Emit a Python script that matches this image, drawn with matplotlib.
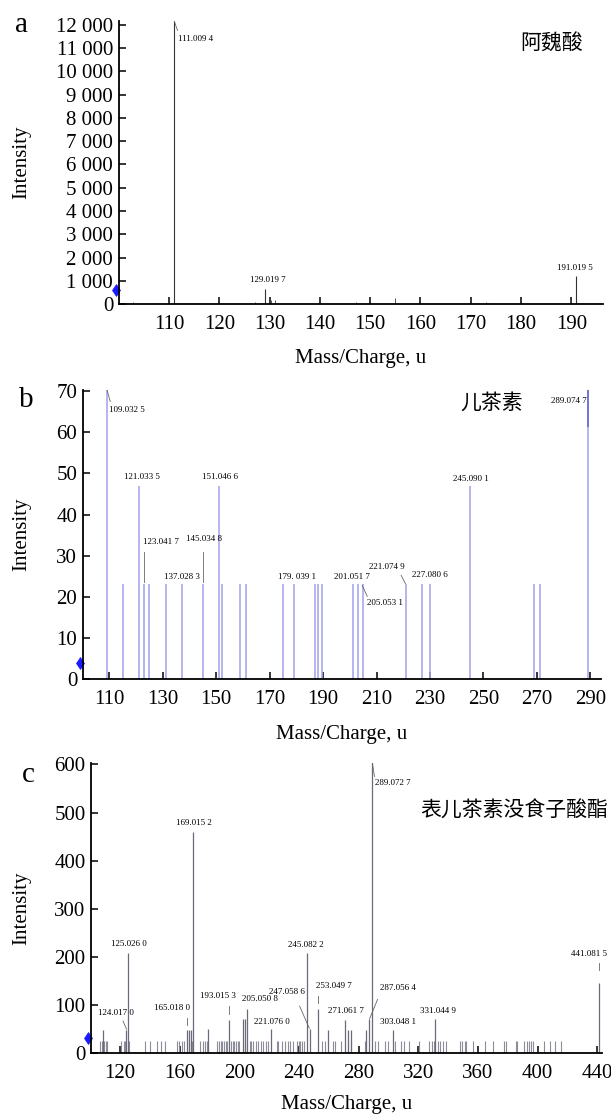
import matplotlib
matplotlib.use("Agg")
import matplotlib.pyplot as plt
from matplotlib.ticker import FuncFormatter

plt.rcParams['font.family'] = ['Liberation Serif', 'Noto Sans CJK SC']

# ---- panel a : 阿魏酸 ----
mz_a = [111.0094, 129.0197, 191.0195]
int_a = [12150, 660, 1220]
small_mz_a = [102.9, 107.6, 109.8, 111.5, 112.0, 112.5, 113.0, 113.5, 114.0, 114.5,
              115.0, 115.5, 116.0, 117.3, 127.1, 130.2, 131.1, 147.1, 155.0, 171.0,
              173.0, 174.8, 189.8, 193.7, 194.3, 194.9]
small_int_a = [90, 40, 120, 60, 50, 40, 40, 50, 40, 40,
               40, 30, 40, 50, 80, 180, 200, 80, 280, 60,
               120, 50, 200, 40, 40, 40]
lab_a = ["111.009 4", "129.019 7", "191.019 5"]
lab_x_a = [111.8, 129.7, 190.7]
lab_y_a = [11370, 1040, 1540]
lab_ha_a = ['left', 'center', 'center']

# ---- panel b : 儿茶素 ----
mz_b = [109.0325, 115.0, 121.0335, 123.0417, 125.0, 131.0, 137.0283, 145.0348, 151.0466,
        152.0, 159.0, 161.0, 175.0, 179.0391, 187.0, 188.0, 189.5, 201.0517, 203.0,
        205.0531, 221.0749, 227.0806, 230.0, 245.0901, 269.0, 271.0, 289.0747]
int_b = [70.3, 23, 47, 23, 23, 23, 23, 23, 47,
         23, 23, 23, 23, 23, 23, 23, 23, 23, 23,
         23, 23, 23, 23, 47, 23, 23, 70.3]
lab_b = ["109.032 5", "121.033 5", "151.046 6", "245.090 1", "289.074 7", "123.041 7",
         "145.034 8", "137.028 3", "179. 039 1", "201.051 7", "205.053 1", "221.074 9",
         "227.080 6"]
lab_x_b = [110.0, 122.1, 151.3, 245.3, 288.6, 129.4, 145.4, 137.0, 180.3, 200.7, 213.2, 213.8, 229.8]
lab_y_b = [65.5, 49.1, 49.1, 48.7, 67.7, 33.3, 34.1, 24.8, 24.8, 24.8, 18.5, 27.3, 25.4]
lab_ha_b = ['left', 'center', 'center', 'center', 'right', 'center', 'center',
            'center', 'center', 'center', 'center', 'center', 'center']

# ---- panel c : 表儿茶素没食子酸酯 ----
mz_c = [108.8, 124.017, 125.026, 165.018, 166.5, 167.8, 169.0152, 178.9, 193.0153, 202.2,
        203.7, 205.0508, 221.076, 245.0822, 247.0586, 253.0497, 259.2, 271.0617, 273.0,
        274.9, 284.6, 287.0564, 289.0727, 303.0481, 331.0449, 441.0815]
int_c = [48, 48, 209, 48, 48, 48, 460, 50, 70, 72,
         72, 93, 50, 208, 50, 93, 48, 70, 48,
         48, 48, 72, 605, 48, 72, 145]
small_mz_c = [106.4, 107.7, 109.1, 110.5, 111.4, 120.9, 122.3, 123.6, 126.1, 137.0,
              139.8, 145.0, 147.7, 150.0, 158.2, 159.5, 161.4, 162.7, 166.4, 168.2,
              173.9, 175.5, 176.8, 178.4, 185.2, 186.4, 187.5, 188.6, 189.8, 190.9,
              192.0, 194.3, 195.5, 196.6, 197.7, 198.9, 200.0, 203.6, 206.8, 208.0,
              209.1, 210.9, 212.5, 214.3, 215.9, 217.7, 219.3, 225.0, 226.1, 228.4,
              230.7, 232.3, 234.1, 235.9, 238.6, 239.8, 240.9, 242.0, 243.2, 255.7,
              257.3, 262.5, 264.1, 268.2, 272.7, 275.0, 284.1, 290.9, 293.2, 297.7,
              300.0, 304.5, 308.6, 310.2, 313.6, 320.5, 327.3, 328.9, 330.7, 332.9,
              334.5, 336.4, 338.6, 348.2, 349.5, 351.1, 352.3, 356.8, 364.8, 370.0,
              377.3, 379.1, 385.2, 386.4, 390.9, 392.7, 394.3, 395.5, 396.6, 404.5,
              408.0, 411.4, 415.9]
small_int_c = [25, 25, 25, 25, 25, 25, 25, 25, 25, 25,
               25, 25, 25, 25, 25, 25, 25, 25, 25, 25,
               25, 25, 25, 25, 25, 25, 25, 25, 25, 25,
               25, 25, 25, 25, 25, 25, 25, 25, 25, 25,
               25, 25, 25, 25, 25, 25, 25, 25, 25, 25,
               25, 25, 25, 25, 25, 25, 25, 25, 25, 25,
               25, 25, 25, 25, 25, 25, 25, 25, 25, 25,
               25, 25, 25, 25, 25, 25, 25, 25, 25, 25,
               25, 25, 25, 25, 25, 25, 25, 25, 25, 25,
               25, 25, 25, 25, 25, 25, 25, 25, 25, 25,
               25, 25, 25]
lab_c = ["124.017 0", "125.026 0", "165.018 0", "169.015 2", "193.015 3", "205.050 8",
         "221.076 0", "245.082 2", "247.058 6", "253.049 7", "271.061 7", "287.056 4",
         "289.072 7", "303.048 1", "331.044 9", "441.081 5"]
lab_x_c = [116.9, 125.8, 155.1, 169.5, 185.4, 213.7, 221.8, 244.3, 231.7, 263.6,
           271.7, 306.5, 291.1, 306.5, 333.0, 446.8]
lab_y_c = [84, 226, 95, 479, 119, 112, 64, 224, 128, 140, 88, 136, 562, 65, 88, 206]
lab_ha_c = ['center', 'center', 'center', 'center', 'center', 'center', 'center', 'center',
            'center', 'center', 'center', 'center', 'left', 'center', 'center', 'right']

# leader lines (x0, y0, x1, y1)
lead_a = [(111.05, 12150, 111.7, 11750)]
lead_b = [(109.1, 70.3, 110.3, 67.5), (123.04, 23.5, 123.04, 31), (145.03, 23.5, 145.03, 31),
          (204.6, 22.8, 206.5, 20.1), (219.2, 25.2, 220.8, 23.2)]
lead_c = [(289.1, 605, 290.6, 575), (122.0, 67, 124.3, 50), (165.0, 58, 165.0, 74),
          (193.0, 81, 193.0, 98), (240.4, 98, 246.9, 52), (253.0, 105, 253.0, 120),
          (292.7, 112, 287.4, 72), (441.0, 173, 441.0, 188)]

fig = plt.figure(figsize=(6.11, 11.18), dpi=100)
W, H = 611, 1118


def make_ax(left, top, right, bottom):
    return fig.add_axes([left / W, 1 - bottom / H, (right - left) / W, (bottom - top) / H])


def style(ax, xlim, ylim, xticks, yticks, left_px, width_px, marker_y):
    ax.set_xlim(*xlim)
    ax.set_ylim(*ylim)
    ax.set_xticks(xticks)
    ax.set_yticks(yticks)
    for s in ['top', 'right']:
        ax.spines[s].set_visible(False)
    for s in ['left', 'bottom']:
        ax.spines[s].set_linewidth(1.3)
    ax.tick_params(direction='in', length=5, width=1.1, labelsize=15)
    ax.tick_params(axis='x', pad=8)
    ax.tick_params(axis='y', pad=4)
    ax.set_xlabel("Mass/Charge, u", fontsize=15)
    ax.set_ylabel("Intensity", fontsize=15)
    ax.yaxis.set_label_coords((21.5 - left_px) / width_px, 0.5)
    ax.yaxis.label.set_va('center')
    ax.plot([-0.005], [marker_y], marker='d', color='#1a1aff', markersize=6,
            markeredgewidth=0.5, transform=ax.get_yaxis_transform(), clip_on=False)


def leaders(ax, segs):
    for x0, y0, x1, y1 in segs:
        ax.plot([x0, x1], [y0, y1], color='#666666', lw=0.6)


# panel a
ax = make_ax(118.7, 20.7, 603, 304.3)
ax.vlines(small_mz_a, 0, small_int_a, colors='#555555', lw=0.7)
ax.vlines(mz_a, 0, int_a, colors='#333333', lw=0.8)
leaders(ax, lead_a)
for t, x, y, ha in zip(lab_a, lab_x_a, lab_y_a, lab_ha_a):
    ax.text(x, y, t, fontsize=6.5, ha=ha, va='center')
style(ax, (100, 196.3), (0, 12170), range(110, 191, 10), range(0, 12001, 1000), 118.7, 484.3, 600)
ax.yaxis.set_major_formatter(FuncFormatter(lambda v, p: f"{int(v):,}".replace(",", " ")))
ax.text(186.1, 11230, "阿魏酸", fontsize=15, ha='center', va='center', family='Noto Sans CJK SC')
ax.xaxis.set_label_coords(0.5, (304.3 - 358) / 283.6)
ax.xaxis.label.set_va('center')
fig.text(21.6 / W, 1 - 32 / H, "a", fontsize=21, ha='center', va='baseline')

# panel b
ax = make_ax(82.7, 389.5, 601, 679)
ax.vlines(mz_b, 0, int_b, colors='#a9a9ec', lw=1.2)
ax.vlines([289.0747], 61.2, 70.3, colors='#6a6ac8', lw=1.2)
leaders(ax, lead_b)
for t, x, y, ha in zip(lab_b, lab_x_b, lab_y_b, lab_ha_b):
    ax.text(x, y, t, fontsize=6.5, ha=ha, va='center')
style(ax, (100, 294), (0, 70.4), range(110, 291, 20), range(0, 71, 10), 82.7, 518.3, 3.9)
ax.text(253.1, 67.1, "儿茶素", fontsize=15, ha='center', va='center', family='Noto Sans CJK SC')
ax.xaxis.set_label_coords(0.5, (679 - 735) / 289.5)
ax.xaxis.label.set_va('center')
fig.text(26 / W, 1 - 407 / H, "b", fontsize=21, ha='center', va='baseline')

# panel c
ax = make_ax(91, 762.7, 601.7, 1053.3)
ax.vlines(small_mz_c, 0, small_int_c, colors='#8c8c9a', lw=0.8)
ax.vlines(mz_c, 0, int_c, colors='#6a6a78', lw=0.9)
leaders(ax, lead_c)
for t, x, y, ha in zip(lab_c, lab_x_c, lab_y_c, lab_ha_c):
    ax.text(x, y, t, fontsize=6.5, ha=ha, va='center', clip_on=False)
style(ax, (100.5, 443), (0, 603.5), range(120, 441, 40), range(0, 601, 100), 91, 510.7, 32)
ax.text(447.5, 503, "表儿茶素没食子酸酯", fontsize=15, ha='right', va='center',
        family='Noto Sans CJK SC', clip_on=False)
ax.xaxis.set_label_coords(0.5, (1053.3 - 1104) / 290.6)
ax.xaxis.label.set_va('center')
fig.text(28.5 / W, 1 - 782 / H, "c", fontsize=21, ha='center', va='baseline')

fig.savefig("out.png", dpi=100)
